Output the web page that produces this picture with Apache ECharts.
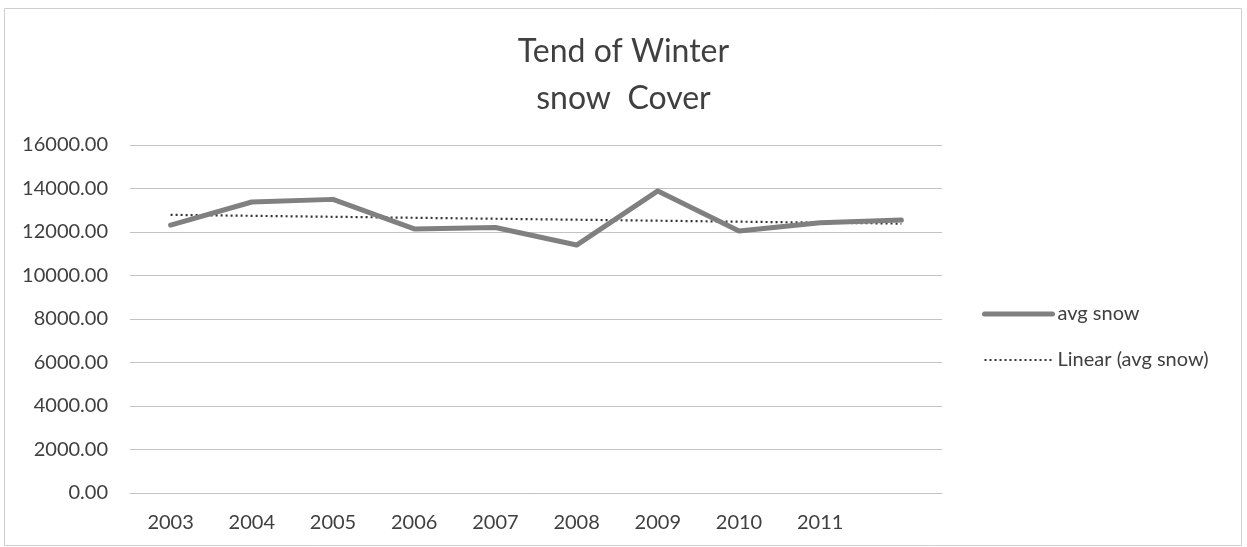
<!DOCTYPE html>
<html>
<head>
<meta charset="utf-8">
<script src="https://cdn.jsdelivr.net/npm/echarts@6/dist/echarts.min.js"></script>
<style>
  html, body { margin: 0; padding: 0; background: #ffffff; }
  #chart { width: 1247px; height: 547px; }
</style>
</head>
<body>
<div id="chart"></div>
<script>
// Winter seasons (the last season has no printed label)
const years = ['2003', '2004', '2005', '2006', '2007', '2008', '2009', '2010', '2011', ''];
// Average winter snow cover per season
const avgSnow = [12320, 13380, 13500, 12140, 12210, 11400, 13890, 12050, 12430, 12550];
// Value axis ticks
const yTicks = [0, 2000, 4000, 6000, 8000, 10000, 12000, 14000, 16000];

// Least-squares linear trend of the avg snow series
function linearTrend(values) {
  const n = values.length;
  let sx = 0, sy = 0, sxx = 0, sxy = 0;
  values.forEach((v, i) => { sx += i; sy += v; sxx += i * i; sxy += i * v; });
  const slope = (n * sxy - sx * sy) / (n * sxx - sx * sx);
  const intercept = (sy - slope * sx) / n;
  return values.map((_, i) => intercept + slope * i);
}
const trend = linearTrend(avgSnow);

const font = 'Lato, "Open Sans", sans-serif';
const chart = echarts.init(document.getElementById('chart'), null, { renderer: 'canvas' });

chart.setOption({
  backgroundColor: '#ffffff',
  animation: false,
  textStyle: { fontFamily: font },
  title: {
    text: 'Tend of Winter\nsnow  Cover',
    left: 'center',
    top: 23,
    textStyle: {
      fontFamily: font,
      fontSize: 32,
      fontWeight: 'normal',
      color: '#404040',
      lineHeight: 47
    }
  },
  graphic: [{
    type: 'rect',
    shape: { x: 4.5, y: 8.5, width: 1237, height: 537 },
    style: { fill: 'none', stroke: '#cfcfcf', lineWidth: 1 },
    silent: true
  }],
  legend: {
    orient: 'vertical',
    left: 977,
    top: 299,
    itemWidth: 68,
    itemHeight: 16,
    itemGap: 26,
    itemStyle: { opacity: 0 },
    textStyle: { fontFamily: font, fontSize: 20, color: '#404040', padding: [0, 0, 0, 0] },
    data: [
      { name: 'avg snow', lineStyle: { width: 5 } },
      { name: 'Linear (avg snow)', lineStyle: { width: 2.2 } }
    ]
  },
  grid: { left: 130, right: 305, top: 145, bottom: 54, containLabel: false },
  xAxis: {
    type: 'category',
    data: years,
    boundaryGap: true,
    axisLine: { show: true, lineStyle: { color: '#c4c4c4', width: 1 } },
    axisTick: { show: false },
    axisLabel: { fontFamily: font, fontSize: 20, color: '#404040', margin: 20 },
    splitLine: { show: false }
  },
  yAxis: {
    type: 'value',
    min: yTicks[0],
    max: yTicks[yTicks.length - 1],
    interval: yTicks[1] - yTicks[0],
    axisLine: { show: false },
    axisTick: { show: false },
    axisLabel: {
      fontFamily: font, fontSize: 20, color: '#404040', margin: 22,
      formatter: v => v.toFixed(2)
    },
    splitLine: { show: true, lineStyle: { color: '#c4c4c4', width: 1 } }
  },
  series: [
    {
      name: 'avg snow',
      type: 'line',
      data: avgSnow,
      symbol: 'none',
      showSymbol: false,
      lineStyle: { color: '#808080', width: 5, cap: 'round', join: 'round' },
      itemStyle: { color: '#808080' },
      z: 3
    },
    {
      name: 'Linear (avg snow)',
      type: 'line',
      data: trend,
      symbol: 'none',
      showSymbol: false,
      lineStyle: { color: '#333333', width: 2.2, type: [2, 3] },
      itemStyle: { color: '#333333' },
      z: 2
    }
  ]
});
</script>
</body>
</html>
